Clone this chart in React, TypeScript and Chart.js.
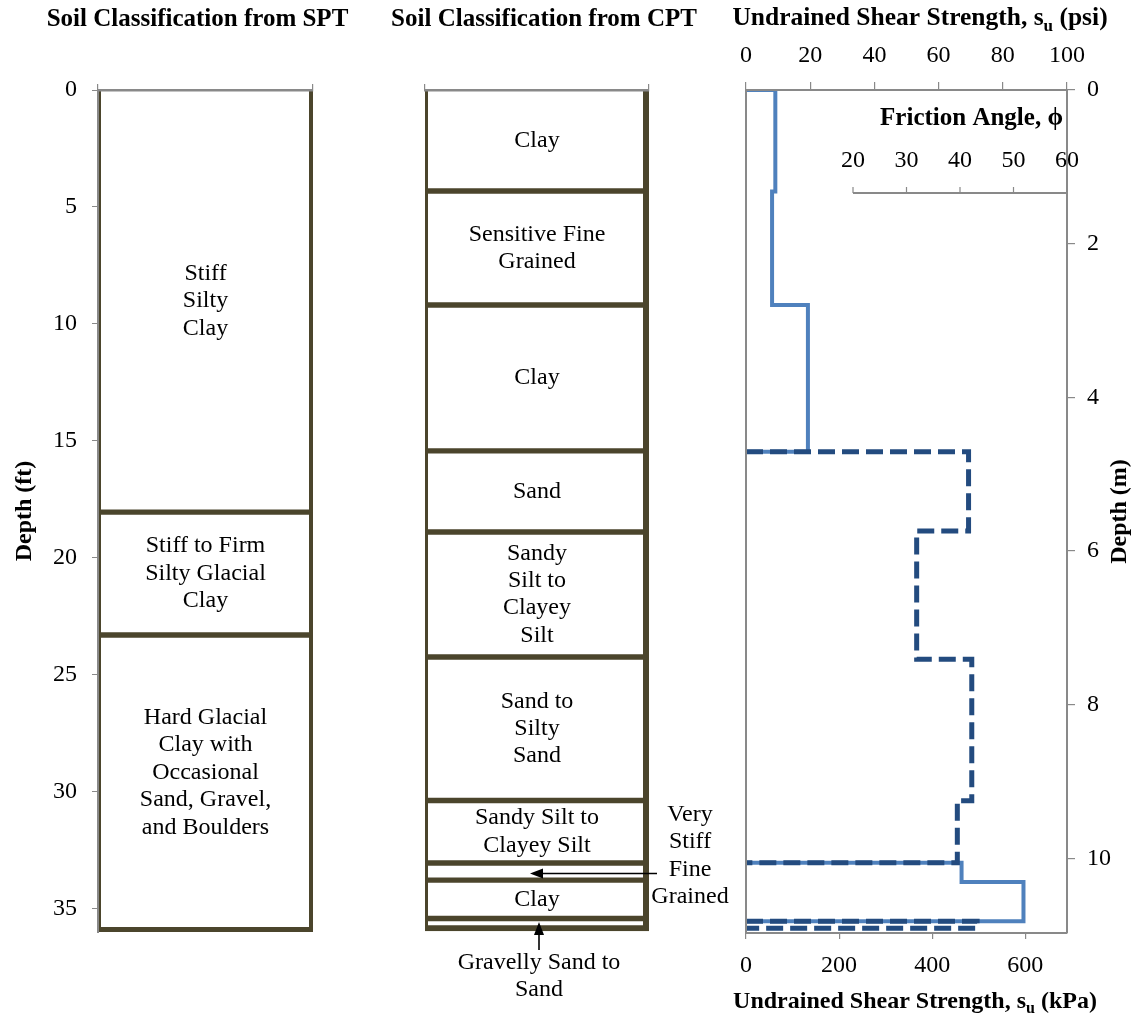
import React, { useEffect, useRef } from 'react';
import { Chart, registerables } from 'chart.js';

Chart.register(...registerables);

const W = 1135;
const H = 1014;
const SERIF = "'Liberation Serif', 'Times New Roman', serif";
const GRAY = '#898989';
const OLIVE = '#4B452C';
const BLUE = '#4F81BD';
const NAVY = '#234B7F';
const LINE_H = 27.4;

// ---- depth axes ----
const DEPTH_MAX_FT = 36;
const FT_TO_M = 0.3048;
const DEPTH_FT_TICKS = [0, 5, 10, 15, 20, 25, 30, 35];
const DEPTH_M_TICKS = [0, 2, 4, 6, 8, 10];

// ---- SPT column (ft) ----
const SPT_BOUNDS_FT = [0, 18.05, 23.3, 36];
const SPT_LABELS = [
  'Stiff\nSilty\nClay',
  'Stiff to Firm\nSilty Glacial\nClay',
  'Hard Glacial\nClay with\nOccasional\nSand, Gravel,\nand Boulders',
];

// ---- CPT column (ft) ----
const CPT_BOUNDS_FT = [0, 4.32, 9.19, 15.43, 18.9, 24.24, 30.38, 33.05, 33.78, 35.42, 35.95];
const CPT_LABELS = [
  'Clay',
  'Sensitive Fine\nGrained',
  'Clay',
  'Sand',
  'Sandy\nSilt to\nClayey\nSilt',
  'Sand to\nSilty\nSand',
  'Sandy Silt to\nClayey Silt',
  '',
  'Clay',
  '',
];
const CALLOUT_SIDE = 'Very\nStiff\nFine\nGrained';
const CALLOUT_BELOW = 'Gravelly Sand to\nSand';

// ---- undrained shear strength profile (kPa vs depth m) ----
const SU_UPPER_BOUNDS_M = [0, 1.32, 2.8, 4.71];
const SU_UPPER_KPA = [63, 56, 133];
const SU_LOWER_BOUNDS_M = [10.06, 10.31, 10.82];
const SU_LOWER_KPA = [463, 596];

// ---- friction angle profile (deg vs depth m) ----
const PHI_UPPER_BOUNDS_M = [4.71, 5.74, 7.41, 9.25, 10.06];
const PHI_UPPER_DEG = [41.6, 31.9, 42.2, 39.5];
const PHI_LOWER_BOUNDS_M = [10.82, 10.91];
const PHI_LOWER_DEG = [43.2];

// ---- other axes ----
const PSI_MAX = 100;
const KPA_PER_PSI = 6.89476;
const PSI_TICKS = [0, 20, 40, 60, 80, 100];
const KPA_TICKS = [0, 200, 400, 600];
const PHI_MAX = 60;
const PHI_TICKS = [20, 30, 40, 50, 60];

Chart.defaults.font.family = SERIF;

function setTicks(values: number[]) {
  return (scale: any) => {
    scale.ticks = values.map((v) => ({ value: v }));
  };
}

function stepPoints(bounds: number[], values: number[]) {
  const pts: { x: number; y: number }[] = [{ x: 0, y: bounds[0] }];
  values.forEach((v, i) => {
    pts.push({ x: v, y: bounds[i] }, { x: v, y: bounds[i + 1] });
  });
  pts.push({ x: 0, y: bounds[bounds.length - 1] });
  return pts;
}

function columnDatasets(bounds: number[], right: number, bottom: number) {
  const n = bounds.length - 1;
  return Array.from({ length: n }, (_, i) => ({
    label: 'L' + i,
    data: [bounds[i + 1] - bounds[i]],
    backgroundColor: '#FFFFFF',
    borderColor: OLIVE,
    borderWidth: { top: i === 0 ? 0 : 3.2, bottom: i === n - 1 ? bottom : 3.2, left: 3.5, right },
    borderSkipped: false,
    barPercentage: 1,
    categoryPercentage: 1,
    inflateAmount: 0.5,
  }));
}

function drawLines(ctx: CanvasRenderingContext2D, text: string, cx: number, cy: number) {
  const lines = text.split('\n');
  lines.forEach((ln, k) => ctx.fillText(ln, cx, cy + (k - (lines.length - 1) / 2) * LINE_H));
}

function drawRich(
  ctx: CanvasRenderingContext2D,
  parts: { t: string; sub?: boolean }[],
  cx: number,
  baseline: number,
  size: number,
) {
  const main = `bold ${size}px ${SERIF}`;
  const sub = `bold ${Math.round(size * 0.66)}px ${SERIF}`;
  let total = 0;
  const widths = parts.map((p) => {
    ctx.font = p.sub ? sub : main;
    const w = ctx.measureText(p.t).width;
    total += w;
    return w;
  });
  let x = cx - total / 2;
  ctx.textAlign = 'left';
  ctx.textBaseline = 'alphabetic';
  parts.forEach((p, i) => {
    ctx.font = p.sub ? sub : main;
    ctx.fillText(p.t, x, baseline + (p.sub ? size * 0.22 : 0));
    x += widths[i];
  });
}

function columnPlugin(
  id: string,
  bounds: number[],
  labels: string[],
  nudge: number[],
  title: string,
  titleX: number,
  callouts: boolean,
) {
  return {
    id,
    afterDraw(chart: any) {
      const { ctx, chartArea, scales } = chart;
      const y = scales.y;
      ctx.save();
      ctx.fillStyle = '#000';
      ctx.font = `24px ${SERIF}`;
      ctx.textAlign = 'center';
      ctx.textBaseline = 'middle';
      const cx = (chartArea.left + chartArea.right) / 2;
      labels.forEach((lab, i) => {
        if (!lab) return;
        const cy = (y.getPixelForValue(bounds[i]) + y.getPixelForValue(bounds[i + 1])) / 2 + (nudge[i] || 0);
        drawLines(ctx, lab, cx, cy);
      });
      if (callouts) {
        // side callout to the thin fine-grained layer
        const ay = (y.getPixelForValue(bounds[7]) + y.getPixelForValue(bounds[8])) / 2 + 2;
        const tipX = cx - 7;
        ctx.strokeStyle = '#000';
        ctx.lineWidth = 1.6;
        ctx.beginPath();
        ctx.moveTo(chartArea.right + 8, ay);
        ctx.lineTo(tipX + 10, ay);
        ctx.stroke();
        ctx.beginPath();
        ctx.moveTo(tipX, ay);
        ctx.lineTo(tipX + 13, ay - 5);
        ctx.lineTo(tipX + 13, ay + 5);
        ctx.closePath();
        ctx.fill();
        drawLines(ctx, CALLOUT_SIDE, chartArea.right + 41, ay - 18);
        // callout below for gravelly sand layer
        const bx = cx + 2;
        const tipY = chartArea.bottom - 10;
        ctx.beginPath();
        ctx.moveTo(bx, chartArea.bottom + 18);
        ctx.lineTo(bx, tipY + 10);
        ctx.stroke();
        ctx.beginPath();
        ctx.moveTo(bx, tipY);
        ctx.lineTo(bx - 5, tipY + 13);
        ctx.lineTo(bx + 5, tipY + 13);
        ctx.closePath();
        ctx.fill();
        drawLines(ctx, CALLOUT_BELOW, bx, chartArea.bottom + 44);
      }
      drawRich(ctx, [{ t: title }], titleX, 26, 25);
      ctx.restore();
    },
  };
}

function columnConfig(
  bounds: number[],
  left: number,
  right: number,
  showDepthAxis: boolean,
  plugin: any,
  rightBorder: number,
  bottomBorder: number,
): any {
  const depthAxis: any = showDepthAxis
    ? {
        type: 'linear',
        position: 'left',
        stacked: true,
        reverse: true,
        min: 0,
        max: DEPTH_MAX_FT,
        afterBuildTicks: setTicks(DEPTH_FT_TICKS),
        ticks: { font: { family: SERIF, size: 24 }, color: '#000', padding: 15 },
        grid: { drawOnChartArea: false, tickLength: 6, color: GRAY, lineWidth: 1, z: 1 },
        border: { color: GRAY, width: 2, z: 1 },
        title: {
          display: true,
          text: 'Depth (ft)',
          color: '#000',
          font: { family: SERIF, size: 24, weight: 'bold' },
          padding: { top: 10, bottom: 0 },
        },
        afterFit: (s: any) => {
          s.width = left;
        },
      }
    : { type: 'linear', display: false, stacked: true, reverse: true, min: 0, max: DEPTH_MAX_FT };
  return {
    type: 'bar',
    data: { labels: ['column'], datasets: columnDatasets(bounds, rightBorder, bottomBorder) },
    options: {
      responsive: false,
      animation: false,
      events: [],
      layout: { padding: { left: showDepthAxis ? 0 : left, right: W - right, top: 84, bottom: H - 932 } },
      plugins: { legend: { display: false }, tooltip: { enabled: false } },
      scales: {
        x: {
          type: 'category',
          position: 'top',
          stacked: true,
          offset: true,
          ticks: { display: false },
          grid: { drawOnChartArea: false, drawTicks: true, tickLength: 6, color: GRAY, lineWidth: 1.2, offset: true, z: 1 },
          border: { color: GRAY, width: 2.5, z: 1 },
          afterFit: (s: any) => {
            s.height = 6;
          },
        },
        y: depthAxis,
      },
    },
    plugins: [plugin],
  };
}

const strengthDeco = {
  id: 'strengthDeco',
  beforeDatasetsDraw(chart: any) {
    const { ctx, chartArea, scales } = chart;
    const xf = scales.xf;
    ctx.save();
    // friction angle axis
    const ay = chartArea.top + 103;
    const x0 = xf.getPixelForValue(PHI_TICKS[0]);
    const x1 = xf.getPixelForValue(PHI_TICKS[PHI_TICKS.length - 1]);
    ctx.strokeStyle = GRAY;
    ctx.lineWidth = 2;
    ctx.beginPath();
    ctx.moveTo(x0, ay);
    ctx.lineTo(x1, ay);
    ctx.stroke();
    ctx.lineWidth = 1.2;
    ctx.fillStyle = '#000';
    ctx.font = `24px ${SERIF}`;
    ctx.textAlign = 'center';
    ctx.textBaseline = 'alphabetic';
    PHI_TICKS.forEach((v) => {
      const px = xf.getPixelForValue(v);
      ctx.beginPath();
      ctx.moveTo(px, ay);
      ctx.lineTo(px, ay - 6);
      ctx.stroke();
      ctx.fillText(String(v), px, ay - 26.5);
    });
    ctx.font = `bold 25px ${SERIF}`;
    ctx.textAlign = 'right';
    ctx.fillText('Friction Angle, \u03D5', chartArea.right - 4, chartArea.top + 35);
    ctx.restore();
  },
  afterDraw(chart: any) {
    const { ctx, chartArea } = chart;
    ctx.save();
    ctx.fillStyle = '#000';
    drawRich(ctx, [{ t: 'Undrained Shear Strength, s' }, { t: 'u', sub: true }, { t: ' (psi)' }], 920, 25, 25.5);
    drawRich(ctx, [{ t: 'Undrained Shear Strength, s' }, { t: 'u', sub: true }, { t: ' (kPa)' }], 915, 1008, 24);
    ctx.translate(1120, (chartArea.top + chartArea.bottom) / 2);
    ctx.rotate(-Math.PI / 2);
    ctx.font = `bold 24px ${SERIF}`;
    ctx.textAlign = 'center';
    ctx.textBaseline = 'middle';
    ctx.fillText('Depth (m)', 0, 0);
    ctx.restore();
  },
};

function strengthConfig(): any {
  const depthMax = DEPTH_MAX_FT * FT_TO_M;
  const tickFont = { family: SERIF, size: 24 };
  const line = (data: any[], xAxisID: string, color: string, width: number, dash: number[], order: number) => ({
    data,
    xAxisID,
    yAxisID: 'ym',
    showLine: true,
    borderColor: color,
    backgroundColor: color,
    borderWidth: width,
    borderDash: dash,
    borderJoinStyle: 'miter',
    borderCapStyle: 'butt',
    pointRadius: 0,
    fill: false,
    tension: 0,
    order,
  });
  return {
    type: 'scatter',
    data: {
      datasets: [
        line(stepPoints(PHI_UPPER_BOUNDS_M, PHI_UPPER_DEG), 'xf', NAVY, 5, [17, 7], 0),
        line(stepPoints(PHI_LOWER_BOUNDS_M, PHI_LOWER_DEG), 'xf', NAVY, 5, [17, 7], 0),
        line(stepPoints(SU_UPPER_BOUNDS_M, SU_UPPER_KPA), 'xk', BLUE, 4, [], 1),
        line(stepPoints(SU_LOWER_BOUNDS_M, SU_LOWER_KPA), 'xk', BLUE, 4, [], 1),
      ],
    },
    options: {
      responsive: false,
      animation: false,
      events: [],
      layout: { padding: { left: 746, right: 0, top: 0, bottom: 0 } },
      plugins: { legend: { display: false }, tooltip: { enabled: false } },
      scales: {
        xp: {
          axis: 'x',
          type: 'linear',
          position: 'top',
          min: 0,
          max: PSI_MAX,
          afterBuildTicks: setTicks(PSI_TICKS),
          ticks: { font: tickFont, color: '#000', padding: 12, maxRotation: 0, autoSkip: false },
          grid: { drawOnChartArea: false, tickLength: 8, color: GRAY, lineWidth: 1.2, z: 1 },
          border: { color: GRAY, width: 2, z: 1 },
          afterFit: (s: any) => {
            s.height = 90;
          },
        },
        xk: {
          axis: 'x',
          type: 'linear',
          position: 'bottom',
          min: 0,
          max: PSI_MAX * KPA_PER_PSI,
          afterBuildTicks: setTicks(KPA_TICKS),
          ticks: { font: tickFont, color: '#000', padding: 12, maxRotation: 0, autoSkip: false },
          grid: { drawOnChartArea: false, tickLength: 6, color: GRAY, lineWidth: 1.2, z: 1 },
          border: { color: GRAY, width: 2, z: 1 },
          afterFit: (s: any) => {
            s.height = H - 933;
          },
        },
        xf: { axis: 'x', type: 'linear', position: 'bottom', display: false, min: 0, max: PHI_MAX },
        yl: {
          axis: 'y',
          type: 'linear',
          position: 'left',
          reverse: true,
          min: 0,
          max: depthMax,
          ticks: { display: false },
          grid: { display: false },
          border: { color: GRAY, width: 2, z: 1 },
          afterFit: (s: any) => {
            s.width = 0;
          },
        },
        ym: {
          axis: 'y',
          type: 'linear',
          position: 'right',
          reverse: true,
          min: 0,
          max: depthMax,
          afterBuildTicks: setTicks(DEPTH_M_TICKS),
          ticks: { font: tickFont, color: '#000', padding: 12 },
          grid: { drawOnChartArea: false, tickLength: 8, color: GRAY, lineWidth: 1.2, z: 1 },
          border: { color: GRAY, width: 2, z: 1 },
          afterFit: (s: any) => {
            s.width = W - 1067;
          },
        },
      },
    },
    plugins: [strengthDeco],
  };
}

export default function App() {
  const sptRef = useRef<HTMLCanvasElement>(null);
  const cptRef = useRef<HTMLCanvasElement>(null);
  const suRef = useRef<HTMLCanvasElement>(null);

  useEffect(() => {
    const charts = [
      new Chart(
        sptRef.current as HTMLCanvasElement,
        columnConfig(
          SPT_BOUNDS_FT,
          98,
          313,
          true,
          columnPlugin('sptText', SPT_BOUNDS_FT, SPT_LABELS, [0, 0, -11], 'Soil Classification from SPT', 197.5, false),
          4.5,
          5.5,
        ),
      ),
      new Chart(
        cptRef.current as HTMLCanvasElement,
        columnConfig(
          CPT_BOUNDS_FT,
          425,
          649,
          false,
          columnPlugin('cptText', CPT_BOUNDS_FT, CPT_LABELS, [], 'Soil Classification from CPT', 544, true),
          6.5,
          6,
        ),
      ),
      new Chart(suRef.current as HTMLCanvasElement, strengthConfig()),
    ];
    return () => charts.forEach((c) => c.destroy());
  }, []);

  const cs: React.CSSProperties = { position: 'absolute', left: 0, top: 0 };
  return (
    <div style={{ position: 'absolute', left: 0, top: 0, width: W, height: H, background: '#fff', overflow: 'hidden' }}>
      <canvas ref={sptRef} width={W} height={H} style={cs} />
      <canvas ref={cptRef} width={W} height={H} style={cs} />
      <canvas ref={suRef} width={W} height={H} style={cs} />
    </div>
  );
}
